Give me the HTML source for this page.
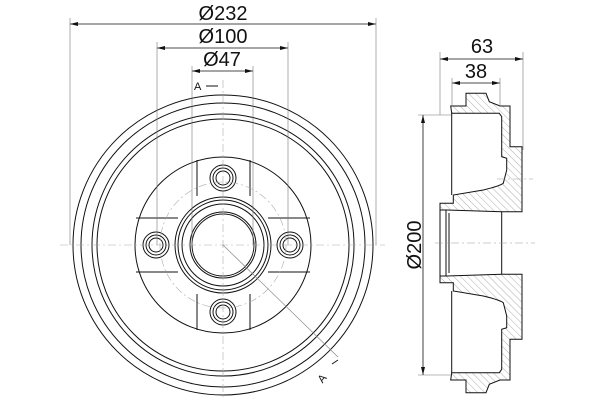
<!DOCTYPE html>
<html><head><style>body{margin:0;background:#fff}svg{display:block}</style></head><body>
<svg width="600" height="400" viewBox="0 0 600 400" xmlns="http://www.w3.org/2000/svg" font-family="Liberation Sans, sans-serif">
<defs>
<pattern id="h" width="5" height="5" patternUnits="userSpaceOnUse" patternTransform="rotate(-45)"><line x1="0" y1="0" x2="0" y2="5" stroke="#777" stroke-width="0.6"/></pattern>
</defs>
<g fill="none" stroke="#111" stroke-width="1">
<circle cx="223" cy="245" r="150"/>
<circle cx="223" cy="245" r="142"/>
<circle cx="223" cy="245" r="131"/>
<circle cx="223" cy="245" r="126"/>
<circle cx="223" cy="245" r="88"/>
<circle cx="223" cy="245" r="48"/>
<circle cx="223" cy="245" r="45"/>
<circle cx="223" cy="245" r="41"/>
<circle cx="223" cy="245" r="33"/>
<circle cx="223" cy="245" r="31"/>
<g>
<circle cx="223" cy="178" r="13"/><circle cx="223" cy="178" r="10"/><circle cx="223" cy="178" r="7"/>
<circle cx="223" cy="312" r="13"/><circle cx="223" cy="312" r="10"/><circle cx="223" cy="312" r="7"/>
<circle cx="156" cy="245" r="13"/><circle cx="156" cy="245" r="10"/><circle cx="156" cy="245" r="7"/>
<circle cx="290" cy="245" r="13"/><circle cx="290" cy="245" r="10"/><circle cx="290" cy="245" r="7"/>
</g>
<path d="M197 160 V196 M250 160 V196 M197 294 V330 M250 294 V330 M136 218 H178 M136 272 H178 M268 218 H310 M268 272 H310"/>
<path d="M70 24 H376 M157 48 H288 M192 71 H253" stroke-width="0.8"/>
<path d="M70 18 V245 M376 18 V245 M157 42 V245 M288 42 V245 M192 66 V245 M253 66 V245" stroke="#777" stroke-width="0.6"/>
</g>
<g stroke="#aaa" stroke-width="0.6" fill="none" stroke-dasharray="8 3 2 3">
<circle cx="223" cy="245" r="63"/>
<path d="M60 245 H385 M223 80 V400"/>
</g>
<path d="M223 245 L338 357" stroke="#888" stroke-width="0.7"/>
<g fill="#111">
<path d="M70 24 l8 -2 v4z M376 24 l-8 -2 v4z M157 48 l8 -2 v4z M288 48 l-8 -2 v4z M192 71 l8 -2 v4z M253 71 l-8 -2 v4z"/>
</g>
<g font-size="20" fill="#111" text-anchor="middle">
<text x="223" y="20">Ø232</text>
<text x="223" y="43">Ø100</text>
<text x="222" y="66">Ø47</text>
<text x="482" y="53">63</text>
<text x="476" y="78">38</text>
<text transform="translate(421,245) rotate(-90)">Ø200</text>
</g>
<g font-size="11" fill="#111">
<text x="194" y="90">A</text><path d="M206 86 H218" stroke="#111"/>
<text x="318" y="382" transform="rotate(-50 322 378)">A</text><path d="M332 364 l6 -4" stroke="#111"/>
</g>
<g stroke="#111" stroke-width="1" fill="url(#h)">
<path d="M450.7 106 L466 106 L466 93.3 L486 93.3 L489.3 101.7 L500 106 L510 106 L510 146.7 L522 146.7 L522 211.7 L501.7 211.7 L446.7 210 L440 210 L440 203.3 L453.3 203.3 L453.3 195 L483.3 190 Q500 186 503.3 183.3 L506.7 170 L506.7 158.3 L501.7 156.7 L501.7 116.7 L499.3 113.3 L451.7 113.3 Z"/>
<path d="M450.7 380 L466 380 L466 392.7 L486 392.7 L489.3 384.3 L500 380 L510 380 L510 339.3 L522 339.3 L522 274.3 L501.7 274.3 L446.7 276 L440 276 L440 282.7 L453.3 282.7 L453.3 291 L483.3 296 Q500 300 503.3 302.7 L506.7 316 L506.7 327.7 L501.7 329.3 L501.7 369.3 L499.3 372.7 L451.7 372.7 Z"/>
</g>
<g stroke="#111" stroke-width="1" fill="none">
<path d="M451.7 113.3 V195 M451.7 291 V372.7 M440 210 V276 M446 210 V276 M449 213 V273 M501.7 211.7 V274.3"/>
<path d="M440 59 H523 M452 83 H500 M423 115 V375" stroke-width="0.8"/>
<path d="M440 52 V115 M523 52 V150 M452 78 V106 M500 78 V106 M418 115 H451 M418 375 H451" stroke="#777" stroke-width="0.6"/>
<path d="M435 243 H535 M497 179 H533" stroke="#999" stroke-width="0.6" stroke-dasharray="8 3 2 3"/>
</g>
<g fill="#111"><path d="M440 59 l8 -2 v4z M523 59 l-8 -2 v4z M452 83 l8 -2 v4z M500 83 l-8 -2 v4z M423 115 l-2 8 h4z M423 375 l-2 -8 h4z"/></g>
</svg>
</body></html>
